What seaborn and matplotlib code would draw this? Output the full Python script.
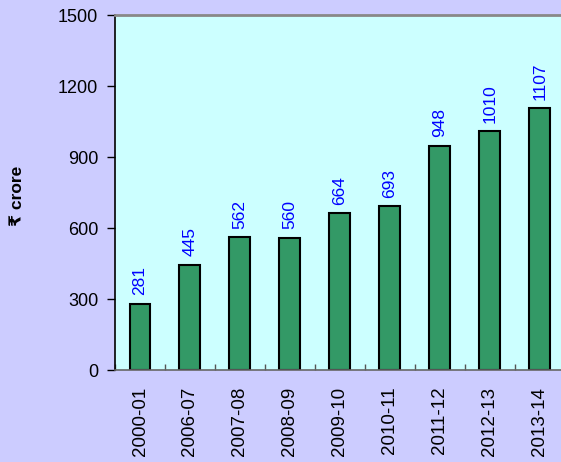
import numpy as np
import pandas as pd
import seaborn as sns
import matplotlib.pyplot as plt

years = ["2000-01", "2006-07", "2007-08", "2008-09", "2009-10",
         "2010-11", "2011-12", "2012-13", "2013-14"]
values = [281, 445, 562, 560, 664, 693, 948, 1010, 1107]

df = pd.DataFrame({"Year": years, "Value": values})

sns.set_style("white")
plt.rcParams["font.family"] = ["Liberation Sans", "DejaVu Sans"]

fig = plt.figure(figsize=(5.61, 4.62), dpi=100, facecolor="#CCCCFF")
ax = fig.add_axes([0.205, 0.199, 0.802, 0.7685])
ax.set_facecolor("#CCFFFF")

sns.barplot(data=df, x="Year", y="Value", color="#339966", saturation=1,
            width=0.42, edgecolor="black", linewidth=1.5, ax=ax)

# value labels above the bars
for i, v in enumerate(values):
    ax.text(i, v + 35, str(v), rotation=90, ha="center", va="bottom",
            color="#0000FF", fontsize=12.5)

ax.set_ylim(0, 1500)
ax.set_xlim(-0.5, len(years) - 0.5)
ax.set_yticks(np.arange(0, 1501, 300))
ax.tick_params(axis="y", direction="out", length=6, width=1, labelsize=13,
               left=True, color="black", labelcolor="black", pad=6)
ax.tick_params(axis="x", which="major", length=0, labelsize=13.5,
               labelcolor="black", rotation=90, pad=12)
ax.set_xticks(np.arange(-0.5, len(years), 1), minor=True)
ax.tick_params(axis="x", which="minor", direction="in", length=4, width=1,
               color="#555555", bottom=True)

ax.set_xlabel("")
ax.set_ylabel("₹ crore", fontsize=12.5, fontweight="bold", color="black")
ax.yaxis.set_label_coords(-0.2, 0.49)

ax.spines["left"].set_color("black")
ax.spines["left"].set_linewidth(1.2)
ax.spines["bottom"].set_color("#666666")
ax.spines["bottom"].set_linewidth(1.2)
ax.spines["top"].set_color("#888888")
ax.spines["top"].set_linewidth(2)
ax.spines["right"].set_visible(False)

fig.savefig("out.png", dpi=100, facecolor=fig.get_facecolor())
